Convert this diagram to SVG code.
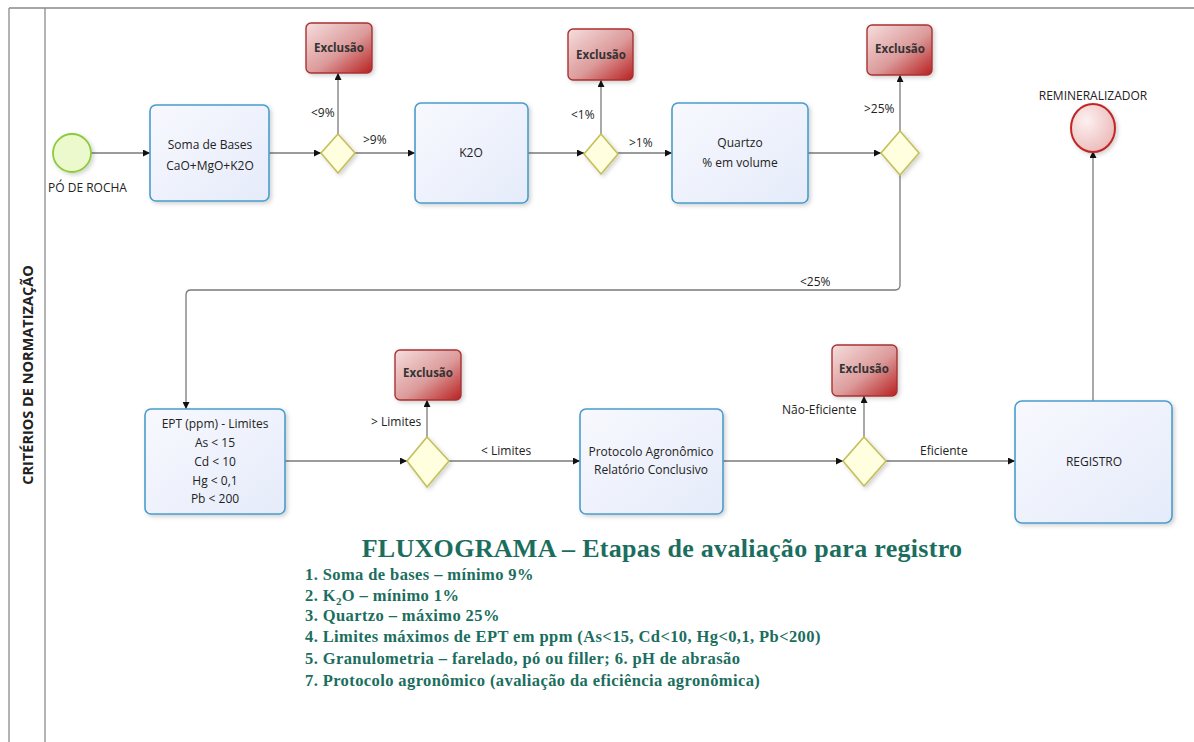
<svg xmlns="http://www.w3.org/2000/svg" width="1194" height="742" viewBox="0 0 1194 742">
<style>
.lbl{font-family:"Open Sans","Liberation Sans",sans-serif;font-size:12px;fill:#222}
.nt{font-family:"Open Sans","Liberation Sans",sans-serif;font-size:12px;fill:#222;text-anchor:middle}
.ex{font-family:"Open Sans","Liberation Sans",sans-serif;font-size:11.5px;font-weight:bold;fill:#333;text-anchor:middle}
.task{fill:url(#gBlue);stroke:#4a9ccb;stroke-width:1.6;filter:url(#sh)}
.exc{fill:url(#gRed);stroke:#a83232;stroke-width:1.4;filter:url(#sh)}
.gw{fill:#ffffe0;stroke:#c4bf5a;stroke-width:1.6;filter:url(#sh)}
.con{fill:none;stroke:#7a7a7a;stroke-width:1.3}
.list{font-family:"Liberation Serif","Times New Roman",serif;font-size:16.5px;font-weight:bold;fill:#1b6e5e;letter-spacing:0.4px}
</style>
<defs>
<linearGradient id="gBlue" x1="0" y1="0" x2="1" y2="1"><stop offset="0" stop-color="#f8f9fe"/><stop offset="1" stop-color="#e5ebfa"/></linearGradient>
<linearGradient id="gRed" x1="0" y1="0" x2="1" y2="1"><stop offset="0" stop-color="#f6dede"/><stop offset="0.55" stop-color="#dc9a9a"/><stop offset="1" stop-color="#b82020"/></linearGradient>
<radialGradient id="gEnd" cx="0.35" cy="0.35" r="0.8"><stop offset="0" stop-color="#fdf0f0"/><stop offset="1" stop-color="#eab4b4"/></radialGradient>
<filter id="sh" x="-20%" y="-20%" width="150%" height="150%"><feDropShadow dx="2" dy="2" stdDeviation="2" flood-color="#000" flood-opacity="0.18"/></filter>
<marker id="ar" viewBox="0 0 10 10" refX="10" refY="5" markerWidth="7" markerHeight="7" orient="auto" markerUnits="userSpaceOnUse"><path d="M0,0 L10,5 L0,10 z" fill="#111"/></marker>
</defs>
<rect width="1194" height="742" fill="#fff"/>
<g id="frame" fill="none" stroke="#8a8a8a" stroke-width="1.3">
<line x1="9" y1="8" x2="1194" y2="8"/>
<line x1="9" y1="8" x2="9" y2="742"/>
<line x1="45" y1="8" x2="45" y2="742"/>
</g>
<text x="33" y="375" transform="rotate(-90 33 375)" text-anchor="middle" font-family="'Open Sans','Liberation Sans',sans-serif" font-size="14.5" font-weight="bold" fill="#222">CRITÉRIOS DE NORMATIZAÇÃO</text>

<g id="connectors">
<line class="con" x1="91" y1="153" x2="150" y2="153" marker-end="url(#ar)"/>
<line class="con" x1="269" y1="153" x2="321" y2="153" marker-end="url(#ar)"/>
<line class="con" x1="338" y1="134" x2="338" y2="73" marker-end="url(#ar)"/>
<line class="con" x1="355" y1="153" x2="415" y2="153" marker-end="url(#ar)"/>
<line class="con" x1="528" y1="153" x2="584" y2="153" marker-end="url(#ar)"/>
<line class="con" x1="601" y1="134" x2="601" y2="80" marker-end="url(#ar)"/>
<line class="con" x1="618" y1="153" x2="672" y2="153" marker-end="url(#ar)"/>
<line class="con" x1="808" y1="153" x2="881" y2="153" marker-end="url(#ar)"/>
<line class="con" x1="900" y1="131" x2="900" y2="75" marker-end="url(#ar)"/>
<path class="con" d="M900,175 V285 Q900,290 895,290 H191 Q186,290 186,295 V409" marker-end="url(#ar)"/>
<line class="con" x1="285" y1="461" x2="407" y2="461" marker-end="url(#ar)"/>
<line class="con" x1="427" y1="437" x2="427" y2="400" marker-end="url(#ar)"/>
<line class="con" x1="449" y1="461" x2="580" y2="461" marker-end="url(#ar)"/>
<line class="con" x1="723" y1="461" x2="843" y2="461" marker-end="url(#ar)"/>
<line class="con" x1="864" y1="437" x2="864" y2="396" marker-end="url(#ar)"/>
<line class="con" x1="886" y1="461" x2="1015" y2="461" marker-end="url(#ar)"/>
<line class="con" x1="1093" y1="401" x2="1093" y2="151" marker-end="url(#ar)"/>
<text class="lbl" x="311" y="117">&lt;9%</text>
<text class="lbl" x="363" y="144">&gt;9%</text>
<text class="lbl" x="571" y="119">&lt;1%</text>
<text class="lbl" x="629" y="147">&gt;1%</text>
<text class="lbl" x="864" y="113">&gt;25%</text>
<text class="lbl" x="800" y="286">&lt;25%</text>
<text class="lbl" x="371" y="426">&gt; Limites</text>
<text class="lbl" x="481" y="455">&lt; Limites</text>
<text class="lbl" x="782" y="414">Não-Eficiente</text>
<text class="lbl" x="920" y="455">Eficiente</text>
</g>

<g id="start">
<circle cx="72" cy="153" r="19" fill="#ecf9cc" stroke="#8ccc3a" stroke-width="1.8" filter="url(#sh)"/>
<text class="lbl" x="48" y="192">PÓ DE ROCHA</text>
</g>
<g id="soma">
<rect class="task" x="150" y="105" width="119" height="96" rx="6"/>
<text class="nt" x="210" y="149">Soma de Bases</text>
<text class="nt" x="210" y="170">CaO+MgO+K2O</text>
</g>
<g id="gw1"><path class="gw" d="M338,134 L355,153 L338,173 L321,153 Z"/></g>
<g id="exc1"><rect class="exc" x="306" y="23" width="66" height="50" rx="5"/><text class="ex" x="339" y="52">Exclusão</text></g>
<g id="k2o">
<rect class="task" x="415" y="103" width="113" height="100" rx="6"/>
<text class="nt" x="471" y="157">K2O</text>
</g>
<g id="gw2"><path class="gw" d="M601,134 L618,154 L601,174 L584,154 Z"/></g>
<g id="exc2"><rect class="exc" x="568" y="29" width="65" height="51" rx="5"/><text class="ex" x="601" y="59">Exclusão</text></g>
<g id="quartzo">
<rect class="task" x="672" y="103" width="136" height="100" rx="6"/>
<text class="nt" x="740" y="147">Quartzo</text>
<text class="nt" x="740" y="167">% em volume</text>
</g>
<g id="gw3"><path class="gw" d="M900,131 L919,153 L900,175 L881,153 Z"/></g>
<g id="exc3"><rect class="exc" x="867" y="25" width="65" height="50" rx="5"/><text class="ex" x="900" y="53">Exclusão</text></g>
<g id="ept">
<rect class="task" x="145" y="409" width="140" height="105" rx="6"/>
<text class="nt" x="215" y="428">EPT (ppm) - Limites</text>
<text class="nt" x="215" y="447">As &lt; 15</text>
<text class="nt" x="215" y="466">Cd &lt; 10</text>
<text class="nt" x="215" y="485">Hg &lt; 0,1</text>
<text class="nt" x="215" y="503">Pb &lt; 200</text>
</g>
<g id="gw4"><path class="gw" d="M427,437 L449,461 L427,487 L407,461 Z"/></g>
<g id="exc4"><rect class="exc" x="395" y="350" width="66" height="50" rx="5"/><text class="ex" x="428" y="377">Exclusão</text></g>
<g id="protocolo">
<rect class="task" x="580" y="409" width="143" height="105" rx="6"/>
<text class="nt" x="651" y="456">Protocolo Agronômico</text>
<text class="nt" x="651" y="474">Relatório Conclusivo</text>
</g>
<g id="gw5"><path class="gw" d="M864,437 L886,461 L864,486 L843,461 Z"/></g>
<g id="exc5"><rect class="exc" x="832" y="345" width="65" height="51" rx="5"/><text class="ex" x="864" y="373">Exclusão</text></g>
<g id="registro">
<rect class="task" x="1015" y="401" width="157" height="122" rx="7"/>
<text class="nt" x="1094" y="466">REGISTRO</text>
</g>
<g id="end">
<ellipse cx="1093" cy="128" rx="22" ry="24" fill="url(#gEnd)" stroke="#c02828" stroke-width="2" filter="url(#sh)"/>
<text class="nt" x="1093" y="100">REMINERALIZADOR</text>
</g>

<g id="legend">
<text x="662" y="557" text-anchor="middle" font-family="'Liberation Serif','Times New Roman',serif" font-size="26" font-weight="bold" fill="#1b6e5e" letter-spacing="0.3">FLUXOGRAMA – Etapas de avaliação para registro</text>
<text class="list" x="305" y="580">1. Soma de bases – mínimo 9%</text>
<text class="list" x="305" y="601">2. K<tspan font-size="11" dy="4">2</tspan><tspan dy="-4">O – mínimo 1%</tspan></text>
<text class="list" x="305" y="621">3. Quartzo – máximo 25%</text>
<text class="list" x="305" y="642">4. Limites máximos de EPT em ppm (As&lt;15, Cd&lt;10, Hg&lt;0,1, Pb&lt;200)</text>
<text class="list" x="305" y="664">5. Granulometria – farelado, pó ou filler; 6. pH de abrasão</text>
<text class="list" x="305" y="686">7. Protocolo agronômico (avaliação da eficiência agronômica)</text>
</g>
</svg>
